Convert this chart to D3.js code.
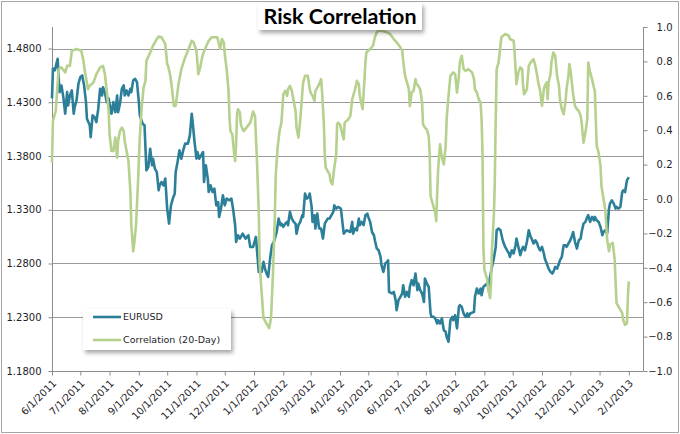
<!DOCTYPE html>
<html><head><meta charset="utf-8">
<script src="https://cdn.jsdelivr.net/npm/d3@7"></script>
<style>body{margin:0;background:#fff}svg{display:block}</style>
</head><body>
<svg id="c" width="680" height="434"></svg>
<script>
// ---- data ----
const startDate = new Date(2011, 5, 1);
const endDate = new Date(2013, 1, 16);
const chartTitle = "Risk Correlation";
const seriesNames = ["EURUSD", "Correlation (20-Day)"];
const leftTicks = [1.18, 1.23, 1.28, 1.33, 1.38, 1.43, 1.48];
const rightTicks = [-1.0, -0.8, -0.6, -0.4, -0.2, 0.0, 0.2, 0.4, 0.6, 0.8, 1.0];
// days since 6/1/2011
const eurDays = [0,1,3,6,8,10,12,14,16,17,19,21,23,24,26,28,30,32,34,36,37,40,41,43,45,47,49,51,53,54,56,58,60,62,63,65,67,69,70,72,74,76,77,79,81,83,84,86,88,90,92,93,96,98,100,102,104,106,107,109,111,113,114,116,118,120,122,124,126,128,130,131,133,135,137,139,141,144,146,148,149,151,153,154,156,159,160,161,163,165,166,168,170,172,174,176,177,179,181,183,185,188,190,192,194,195,197,199,202,205,208,210,213,216,219,220,222,224,226,228,229,231,233,235,236,238,240,242,243,245,247,249,250,252,254,256,258,259,261,263,265,266,268,270,272,273,275,276,278,279,281,283,285,287,289,292,294,296,298,299,301,303,306,309,312,316,318,319,321,323,325,326,328,330,332,334,335,337,339,341,342,344,346,348,349,351,353,355,356,357,360,362,364,365,367,369,371,372,374,376,378,379,381,383,385,387,388,390,392,394,395,397,399,401,402,404,406,408,409,411,413,415,417,418,420,422,424,425,427,429,431,432,434,436,438,440,441,443,447,448,450,452,454,455,457,461,462,464,466,468,470,471,473,475,477,478,480,482,484,485,487,489,491,492,494,496,498,499,501,503,505,507,508,510,512,514,515,517,519,521,522,524,526,528,530,531,533,535,537,538,540,542,544,545,547,549,551,552,554,556,558,560,561,563,565,567,568,570,572,574,575,577,579,581,583,584,586,588,590,591,593,595,597,598,600,602,604,605,607,609,611];
const eurusd = [1.4336,1.4614,1.4596,1.4704,1.4394,1.4456,1.4348,1.4193,1.4394,1.4270,1.4363,1.4410,1.4193,1.4255,1.4317,1.4472,1.4533,1.4549,1.4456,1.4301,1.4147,1.4085,1.3976,1.4178,1.4162,1.4115,1.4240,1.4426,1.4363,1.4440,1.4394,1.4301,1.4333,1.4240,1.4193,1.4301,1.4208,1.4363,1.4208,1.4286,1.4426,1.4456,1.4363,1.4410,1.4363,1.4426,1.4394,1.4503,1.4518,1.4487,1.4301,1.4178,1.4100,1.4085,1.3667,1.3697,1.3868,1.3713,1.3775,1.3682,1.3651,1.3481,1.3527,1.3558,1.3527,1.3590,1.3311,1.3171,1.3341,1.3404,1.3450,1.3651,1.3744,1.3852,1.3775,1.3852,1.3915,1.3915,1.3992,1.4193,1.4115,1.3930,1.3775,1.3837,1.3775,1.3822,1.3837,1.3558,1.3713,1.3590,1.3465,1.3527,1.3465,1.3496,1.3341,1.3372,1.3233,1.3311,1.3434,1.3341,1.3404,1.3388,1.3404,1.3295,1.3156,1.3000,1.3063,1.3032,1.3078,1.3032,1.3063,1.2954,1.2954,1.3047,1.2722,1.2738,1.2722,1.2815,1.2738,1.2691,1.2675,1.2846,1.2970,1.3000,1.3032,1.3093,1.3218,1.3156,1.3171,1.3140,1.3171,1.3187,1.3156,1.3280,1.3218,1.3187,1.3171,1.3078,1.3156,1.3187,1.3249,1.3233,1.3450,1.3404,1.3419,1.3450,1.3326,1.3187,1.3249,1.3125,1.3264,1.3125,1.3125,1.3032,1.3171,1.3218,1.3218,1.3249,1.3280,1.3341,1.3311,1.3326,1.3311,1.3078,1.3109,1.3093,1.3187,1.3078,1.3125,1.3109,1.3218,1.3156,1.3187,1.3156,1.3249,1.3264,1.3233,1.3187,1.3093,1.3063,1.3016,1.2939,1.2923,1.2861,1.2784,1.2722,1.2800,1.2815,1.2830,1.2536,1.2521,1.2536,1.2459,1.2366,1.2459,1.2490,1.2521,1.2598,1.2490,1.2536,1.2490,1.2583,1.2645,1.2598,1.2707,1.2552,1.2614,1.2552,1.2521,1.2443,1.2660,1.2614,1.2583,1.2335,1.2304,1.2304,1.2289,1.2242,1.2273,1.2242,1.2289,1.2180,1.2165,1.2118,1.2072,1.2273,1.2304,1.2273,1.2320,1.2196,1.2397,1.2412,1.2397,1.2335,1.2304,1.2335,1.2304,1.2335,1.2350,1.2490,1.2567,1.2521,1.2567,1.2505,1.2583,1.2614,1.2583,1.2675,1.2768,1.2846,1.2954,1.3109,1.3125,1.3109,1.3032,1.3000,1.2954,1.2923,1.2893,1.2861,1.2923,1.2893,1.2970,1.3032,1.2954,1.2877,1.2939,1.2954,1.2923,1.3000,1.3109,1.3047,1.3032,1.2986,1.3016,1.2986,1.2954,1.2923,1.2954,1.2893,1.2846,1.2800,1.2753,1.2722,1.2707,1.2722,1.2768,1.2753,1.2800,1.2830,1.2861,1.2970,1.2970,1.2954,1.2986,1.3016,1.3063,1.3093,1.3000,1.2939,1.3016,1.3032,1.3093,1.3171,1.3187,1.3233,1.3249,1.3187,1.3233,1.3202,1.3233,1.3202,1.3187,1.3140,1.3063,1.3093,1.3109,1.3078,1.3311,1.3357,1.3388,1.3357,1.3311,1.3326,1.3311,1.3326,1.3465,1.3481,1.3465,1.3574,1.3604];
const corrDays = [0,1,4,7,10,14,16,19,21,26,31,33,35,37,38,40,44,47,51,54,56,58,60,61,63,65,67,69,70,72,74,76,77,79,81,83,84,86,87,89,91,93,95,97,99,100,104,107,111,113,116,120,122,123,125,127,129,131,134,137,141,144,148,150,153,155,157,159,160,162,166,169,175,176,178,180,182,183,185,187,188,189,191,193,194,195,196,197,199,200,202,203,206,210,213,215,217,219,220,222,224,228,230,232,234,236,237,239,241,243,245,247,249,250,252,254,256,258,259,261,263,265,266,268,271,273,274,276,278,279,281,283,285,286,288,289,290,292,294,295,297,299,301,302,303,305,309,310,314,316,318,321,323,325,326,329,331,332,333,337,340,342,344,346,349,355,358,362,365,369,371,372,374,376,378,379,381,383,385,386,388,390,392,393,395,397,399,400,401,403,406,407,408,409,411,413,415,417,418,420,422,425,427,429,431,432,434,436,438,441,445,447,448,450,452,454,455,456,457,458,461,462,464,465,466,468,469,470,471,473,475,476,480,484,485,489,490,491,492,494,496,498,499,500,503,505,507,510,512,514,515,517,519,521,522,524,525,526,528,529,531,533,535,537,538,540,542,544,545,547,548,549,551,552,554,556,558,560,561,563,565,567,568,570,572,574,575,576,577,579,581,582,584,586,588,590,591,594,596,597,598,600,602,604,605,607,609,610,611];
const correlation = [0.211,0.454,0.512,0.755,0.765,0.736,0.774,0.774,0.862,0.872,0.862,0.813,0.736,0.678,0.638,0.658,0.678,0.726,0.765,0.774,0.726,0.629,0.512,0.376,0.279,0.279,0.357,0.240,0.337,0.395,0.415,0.395,0.337,0.279,0.220,0.045,-0.149,-0.304,-0.265,-0.149,0.085,0.357,0.532,0.648,0.687,0.803,0.852,0.891,0.930,0.944,0.940,0.901,0.784,0.774,0.726,0.648,0.541,0.541,0.668,0.755,0.823,0.862,0.920,0.911,0.862,0.726,0.765,0.823,0.843,0.872,0.920,0.940,0.940,0.920,0.872,0.930,0.911,0.843,0.755,0.629,0.473,0.395,0.376,0.259,0.220,0.318,0.493,0.522,0.503,0.434,0.405,0.395,0.415,0.444,0.508,0.483,0.240,-0.071,-0.382,-0.538,-0.693,-0.732,-0.751,-0.693,-0.440,-0.110,0.143,0.299,0.395,0.444,0.609,0.629,0.600,0.638,0.658,0.629,0.570,0.512,0.415,0.357,0.464,0.609,0.678,0.716,0.716,0.638,0.619,0.600,0.570,0.629,0.648,0.668,0.697,0.629,0.434,0.240,0.182,0.162,0.143,0.104,0.085,0.182,0.259,0.434,0.444,0.434,0.347,0.444,0.464,0.483,0.580,0.638,0.687,0.668,0.600,0.522,0.697,0.794,0.852,0.872,0.891,0.940,0.969,0.978,0.978,0.969,0.959,0.930,0.911,0.882,0.862,0.803,0.716,0.678,0.638,0.541,0.619,0.629,0.697,0.668,0.658,0.638,0.561,0.434,0.415,0.405,0.366,0.269,0.016,-0.022,-0.081,-0.129,0.036,0.172,0.318,0.240,0.201,0.308,0.464,0.600,0.716,0.736,0.726,0.619,0.716,0.794,0.833,0.755,0.745,0.755,0.736,0.697,0.638,0.619,0.580,0.561,0.464,0.269,-0.294,-0.411,-0.469,-0.528,-0.576,-0.489,-0.294,-0.100,0.094,0.464,0.755,0.794,0.891,0.940,0.959,0.949,0.930,0.920,0.852,0.755,0.668,0.736,0.765,0.755,0.658,0.609,0.638,0.774,0.794,0.813,0.774,0.716,0.678,0.629,0.541,0.638,0.658,0.678,0.580,0.678,0.726,0.794,0.852,0.833,0.716,0.658,0.580,0.522,0.493,0.570,0.638,0.716,0.784,0.755,0.658,0.609,0.541,0.522,0.512,0.483,0.444,0.328,0.386,0.464,0.794,0.736,0.697,0.648,0.629,0.464,0.308,0.269,0.191,0.075,0.007,-0.061,-0.236,-0.304,-0.265,-0.255,-0.353,-0.489,-0.605,-0.625,-0.644,-0.664,-0.703,-0.732,-0.722,-0.567,-0.479];

// ---- styles ----
const teal = "#2c7f98", green = "#b6d08d", gridCol = "#9a9a9a", axisCol = "#8c8c8c", txt = "#1e1e2a";
const font = "DejaVu Sans";

const svg = d3.select("#c");
const L = 52, R = 643, T = 27, B = 371;

const x = d3.scaleTime().domain([startDate, endDate]).range([L, R]);
const yL = d3.scaleLinear().domain([1.18, 1.50]).range([B, T]);
const yR = d3.scaleLinear().domain([-1, 1]).range([B, T]);

const dayDate = d => d3.timeDay.offset(startDate, d);
const eurData = eurDays.map((d, i) => ({date: dayDate(d), v: eurusd[i]}));
const corrData = corrDays.map((d, i) => ({date: dayDate(d), v: correlation[i]}));

// filters
const defs = svg.append("defs");
const f = defs.append("filter").attr("id", "sh").attr("x", "-20%").attr("y", "-30%").attr("width", "140%").attr("height", "170%");
f.append("feDropShadow").attr("dx", 2).attr("dy", 3).attr("stdDeviation", 2).attr("flood-color", "#000").attr("flood-opacity", 0.35);

// outer border
svg.append("rect").attr("x", 1.5).attr("y", 1.5).attr("width", 677).attr("height", 431)
  .attr("fill", "#fff").attr("stroke", "#a6a6a6").attr("stroke-width", 1);

// gridlines
svg.append("g").selectAll("line").data(leftTicks.slice(1)).join("line")
  .attr("x1", L).attr("x2", R)
  .attr("y1", d => Math.round(yL(d)) + 0.5).attr("y2", d => Math.round(yL(d)) + 0.5)
  .attr("stroke", gridCol).attr("stroke-width", 1.2);

// left axis
const gL = svg.append("g").attr("transform", `translate(${L + 0.5},0)`)
  .call(d3.axisLeft(yL).tickValues(leftTicks).tickFormat(d3.format(".4f")).tickSize(4).tickPadding(7));
// right axis
const gR = svg.append("g").attr("transform", `translate(${R + 0.5},0)`)
  .call(d3.axisRight(yR).tickValues(rightTicks).tickFormat(d3.format(".1f")).tickSize(4).tickPadding(6));
[gL, gR].forEach(g => {
  g.select(".domain").attr("stroke", axisCol).attr("d", g === gL ? `M0,${T}V${B}` : `M0,${T}V${B}`);
  g.selectAll(".tick line").attr("stroke", axisCol);
  g.selectAll("text").attr("font-family", font).attr("font-size", 10).attr("fill", txt);
});
gR.selectAll("text").attr("text-anchor", "end").attr("x", 29);

// x axis
const monthTicks = d3.timeMonth.range(startDate, new Date(2013, 1, 2));
const gX = svg.append("g").attr("transform", `translate(0,${B + 0.5})`)
  .call(d3.axisBottom(x).tickValues(monthTicks).tickFormat(d3.timeFormat("%-m/%-d/%Y")).tickSize(4));
gX.select(".domain").attr("stroke", axisCol).attr("d", `M${L},0H${R}`);
gX.selectAll(".tick line").attr("stroke", axisCol);
gX.selectAll("text").attr("font-family", font).attr("font-size", 10).attr("fill", txt)
  .attr("text-anchor", "end").attr("y", 0).attr("dy", "0.35em")
  .attr("transform", "translate(2,10) rotate(-45)");

// lines
const lineL = d3.line().x(d => x(d.date)).y(d => yL(d.v));
const lineR = d3.line().x(d => x(d.date)).y(d => yR(d.v));
svg.append("path").datum(eurData).attr("d", lineL).attr("fill", "none")
  .attr("stroke", teal).attr("stroke-width", 2.6).attr("stroke-linejoin", "round");
svg.append("path").datum(corrData).attr("d", lineR).attr("fill", "none")
  .attr("stroke", green).attr("stroke-width", 2.6).attr("stroke-linejoin", "round");

// legend
const leg = svg.append("g");
leg.append("rect").attr("x", 83).attr("y", 309).attr("width", 148).attr("height", 41)
  .attr("fill", "#fff").attr("filter", "url(#sh)");
const legItems = [{name: seriesNames[0], c: teal, y: 317}, {name: seriesNames[1], c: green, y: 340}];
legItems.forEach(it => {
  leg.append("line").attr("x1", 93).attr("x2", 121).attr("y1", it.y).attr("y2", it.y)
    .attr("stroke", it.c).attr("stroke-width", 2.6);
  leg.append("text").attr("x", 123).attr("y", it.y).attr("dy", "0.35em")
    .attr("font-family", font).attr("font-size", 9.5).attr("fill", txt).text(it.name);
});

// title
const tg = svg.append("g");
tg.append("rect").attr("x", 258).attr("y", 3).attr("width", 164).attr("height", 27)
  .attr("fill", "#fff").attr("filter", "url(#sh)");
tg.append("text").attr("x", 340).attr("y", 24).attr("text-anchor", "middle")
  .attr("font-family", "Lato, 'Open Sans', sans-serif").attr("font-weight", "bold").attr("font-size", 20)
  .attr("textLength", 153).attr("lengthAdjust", "spacingAndGlyphs")
  .attr("fill", "#000").text(chartTitle);
</script>
</body></html>
